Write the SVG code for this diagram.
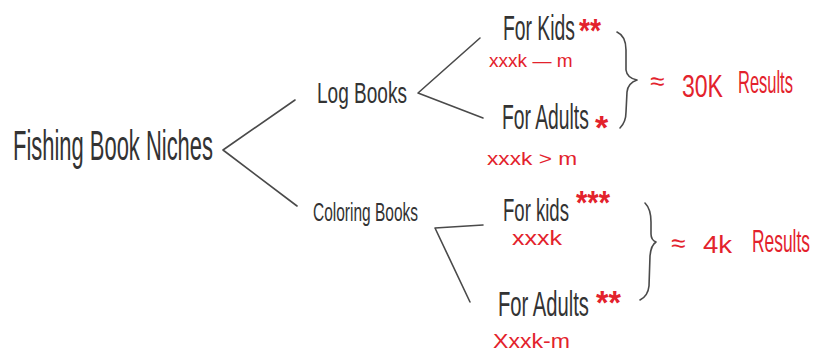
<svg xmlns="http://www.w3.org/2000/svg" width="813" height="354" viewBox="0 0 813 354">
<style>
.t{font-family:"Liberation Sans","DejaVu Sans",sans-serif;fill:#333333;}
.r{font-family:"Liberation Sans","DejaVu Sans",sans-serif;fill:#e3222c;}
.s{font-family:"Liberation Sans","DejaVu Sans",sans-serif;fill:#e3222c;font-weight:bold;}
.ln{stroke:#4a4a4a;stroke-width:1.6;fill:none;stroke-linecap:round;stroke-linejoin:round;}
</style>
<rect width="813" height="354" fill="#ffffff"/>
<g id="connectors">
<path class="ln" d="M295,100 L223,150 L297,206"/>
<path class="ln" d="M480,38 L418,93 L483,118"/>
<path class="ln" d="M483,225 L435,228 L470,302"/>
<path class="ln" d="M617,32 Q626,36 626,50 L626,70 Q627,78 637,80 Q628,83 627,92 L626,112 Q626,122 620,128"/>
<path class="ln" d="M645,203 Q651,209 651,222 L651,234 Q651,240 656,242 Q651,245 650,256 L649,286 Q648,296 640,300"/>
</g>
<g id="root">
<text class="t" transform="translate(13,160) scale(0.5225,1)" font-size="42">Fishing Book Niches</text>
</g>
<g id="log-books">
<text class="t" transform="translate(317,103) scale(0.635,1)" font-size="30">Log Books</text>
</g>
<g id="coloring-books">
<text class="t" transform="translate(313,221) scale(0.596,1)" font-size="26">Coloring Books</text>
</g>
<g id="log-kids">
<text class="t" transform="translate(503,40) scale(0.537,1)" font-size="36">For Kids</text>
<text class="s" transform="translate(579,42) scale(0.83,1)" font-size="34">**</text>
<text class="r" transform="translate(489,67) scale(1.06,1)" font-size="18">xxxk — m</text>
</g>
<g id="log-adults">
<text class="t" transform="translate(502,129) scale(0.536,1)" font-size="36">For Adults</text>
<text class="s" x="595" y="139" font-size="34">*</text>
<text class="r" transform="translate(487,165) scale(1.26,1)" font-size="18">xxxk &gt; m</text>
</g>
<g id="log-results">
<text class="r" x="650" y="90" font-size="26">≈</text>
<text class="r" transform="translate(682,97) scale(0.72,1)" font-size="32">30K</text>
<text class="r" transform="translate(738,93) scale(0.515,1)" font-size="32">Results</text>
</g>
<g id="coloring-kids">
<text class="t" transform="translate(503,221) scale(0.58,1)" font-size="32">For kids</text>
<text class="s" transform="translate(576,214) scale(0.857,1)" font-size="34">***</text>
<text class="r" transform="translate(512,245) scale(1.25,1)" font-size="20">xxxk</text>
</g>
<g id="coloring-adults">
<text class="t" transform="translate(498,316) scale(0.561,1)" font-size="36">For Adults</text>
<text class="s" transform="translate(596,314) scale(0.94,1)" font-size="34">**</text>
<text class="r" transform="translate(493,348) scale(1.155,1)" font-size="20">Xxxk-m</text>
</g>
<g id="coloring-results">
<text class="r" x="671" y="252" font-size="26">≈</text>
<text class="r" transform="translate(703,253) scale(1.15,1)" font-size="24">4k</text>
<text class="r" transform="translate(752,252) scale(0.544,1)" font-size="32">Results</text>
</g>
</svg>
